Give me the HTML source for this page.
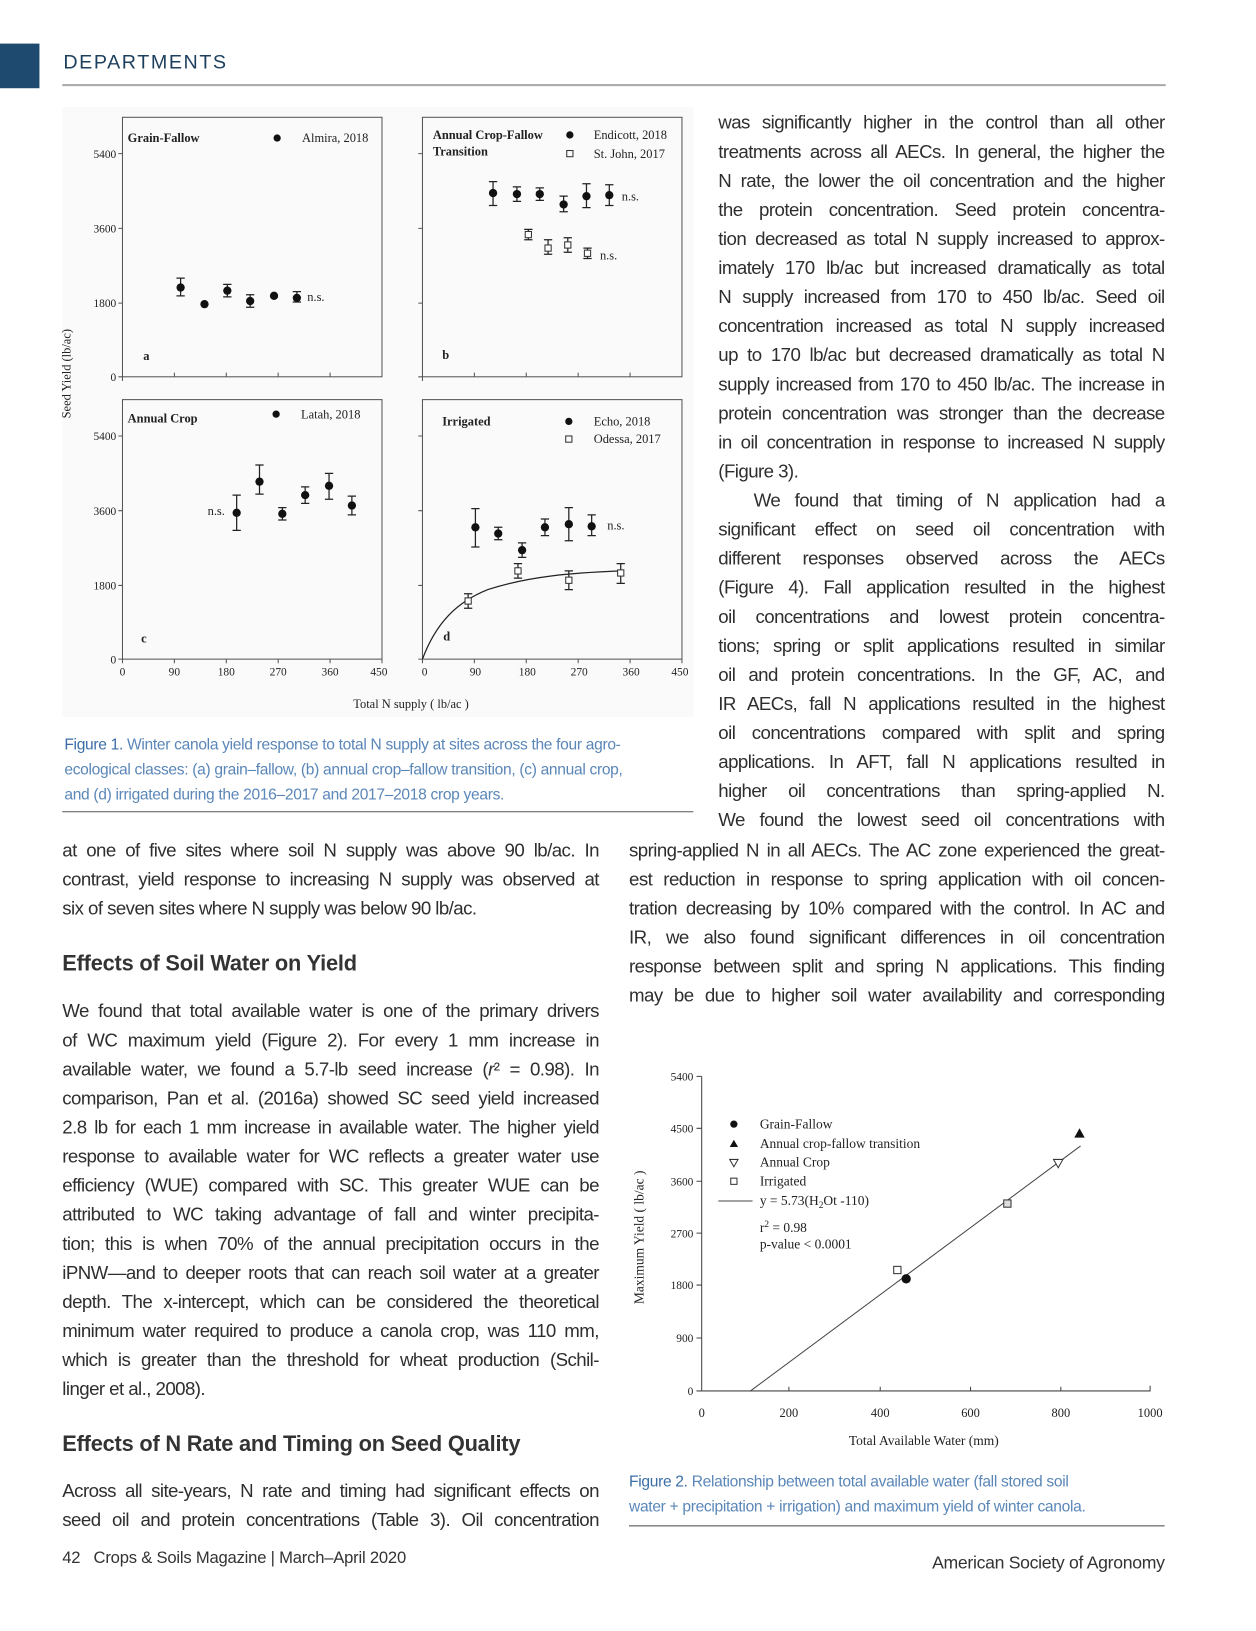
<!DOCTYPE html>
<html><head><meta charset="utf-8"><style>
body{margin:0;background:#fff;width:1256px;height:1631px;overflow:hidden}
#pg{position:relative;width:1210px;height:1571px;overflow:hidden;font-family:"Liberation Sans",sans-serif;color:#2e2e2e;transform:scale(1.038);transform-origin:0 0}
.l{position:absolute;height:28px;line-height:28px;font-size:18px;letter-spacing:-0.55px;white-space:nowrap;text-align:justify;text-align-last:justify}
.n{text-align-last:left}
.R{left:692px;width:430px}.W{left:606px;width:516px}.L{left:60px;width:517px}
.h{position:absolute;left:60px;font-size:21px;font-weight:bold;color:#333;letter-spacing:-0.2px}
.cap{position:absolute;font-size:15px;color:#5a86b8;line-height:24px;letter-spacing:-0.3px;white-space:nowrap}
.cap b{color:#3a6ea5;font-weight:normal}
svg text{font-family:"Liberation Serif",serif;fill:#222}
</style></head><body><div id="pg">
<div style="position:absolute;left:0;top:42px;width:38px;height:43px;background:#1d4a6e"></div>
<div style="position:absolute;left:61px;top:50px;font-size:19px;letter-spacing:1.5px;color:#1d3f5e">DEPARTMENTS</div>
<div style="position:absolute;left:60px;top:81px;width:1063px;height:2px;background:#aaa"></div>

<svg width="1256" height="1631" style="position:absolute;left:0;top:0" font-size="12">
<rect x="60" y="103" width="608" height="588" fill="#fafafa"/>
<g fill="none" stroke="#555" stroke-width="1">
<rect x="118" y="113" width="250" height="250"/><rect x="407" y="113" width="250" height="250"/>
<rect x="118" y="385" width="250" height="250"/><rect x="407" y="385" width="250" height="250"/>
<path d="M114 148h4M114 220h4M114 292h4M114 363h4M403 148h4M403 220h4M403 292h4M403 363h4M114 420h4M114 492h4M114 564h4M114 635h4M403 420h4M403 492h4M403 564h4M403 635h4"/>
<path d="M118 363v4M168 363v-4M218 363v-4M268 363v-4M318 363v-4M407 363v4M457 363v-4M507 363v-4M557 363v-4M607 363v-4M118 635v4M168 635v4M218 635v4M268 635v4M318 635v4M368 635v4M407 635v4M457 635v4M507 635v4M557 635v4M607 635v4M657 635v4"/>
</g>
<g text-anchor="end" font-size="11"><text x="112" y="152">5400</text><text x="112" y="224">3600</text><text x="112" y="296">1800</text><text x="112" y="367">0</text>
<text x="112" y="424">5400</text><text x="112" y="496">3600</text><text x="112" y="568">1800</text><text x="112" y="639">0</text></g>
<g text-anchor="middle" font-size="11"><text x="118" y="651">0</text><text x="168" y="651">90</text><text x="218" y="651">180</text><text x="268" y="651">270</text><text x="318" y="651">360</text><text x="365" y="651">450</text>
<text x="409" y="651">0</text><text x="458" y="651">90</text><text x="508" y="651">180</text><text x="558" y="651">270</text><text x="608" y="651">360</text><text x="655" y="651">450</text></g>
<text x="68" y="360" transform="rotate(-90 68 360)" text-anchor="middle" font-size="12">Seed Yield (lb/ac)</text>
<text x="396" y="682" text-anchor="middle" font-size="12">Total N supply (  lb/ac  )</text>
<g font-weight="bold" font-size="12"><text x="123" y="137">Grain-Fallow</text><text x="417" y="134">Annual Crop-Fallow</text><text x="417" y="150">Transition</text><text x="123" y="407">Annual Crop</text><text x="426" y="410">Irrigated</text>
<text x="138" y="347">a</text><text x="426" y="346">b</text><text x="136" y="619">c</text><text x="427" y="617">d</text></g>
<g font-size="12"><text x="291" y="137">Almira, 2018</text><text x="572" y="134">Endicott, 2018</text><text x="572" y="152">St. John, 2017</text><text x="290" y="403">Latah, 2018</text><text x="572" y="410">Echo, 2018</text><text x="572" y="427">Odessa, 2017</text>
<text x="296" y="290">n.s.</text><text x="599" y="193">n.s.</text><text x="578" y="250">n.s.</text><text x="200" y="496">n.s.</text><text x="585" y="510">n.s.</text></g>
<g fill="#111"><circle cx="267" cy="133" r="3.5"/><circle cx="549" cy="130" r="3.5"/><circle cx="266" cy="399" r="3.5"/><circle cx="548" cy="406" r="3.5"/></g>
<g fill="none" stroke="#333"><rect x="546" y="145" width="6" height="6"/><rect x="545" y="420" width="6" height="6"/></g>
<g stroke="#222" stroke-width="1.2" fill="none">
<path d="M174 268v17M170 268h8M170 285h8M219 274v12M215 274h8M215 286h8M241 284v12M237 284h8M237 296h8M286 281v10M282 281h8M282 291h8
M475 175v23M471 175h8M471 198h8M498 180v14M494 180h8M494 194h8M520 181v12M516 181h8M516 193h8M543 189v15M539 189h8M539 204h8M565 177v23M561 177h8M561 200h8M587 178v20M583 178h8M583 198h8
M509 221v10M505 221h8M505 231h8M528 231v14M524 231h8M524 245h8M547 229v14M543 229h8M543 243h8M566 239v10M562 239h8M562 249h8
M228 477v34M224 477h8M224 511h8M250 448v28M246 448h8M246 476h8M272 489v12M268 489h8M268 501h8M294 469v16M290 469h8M290 485h8M317 456v25M313 456h8M313 481h8M339 478v18M335 478h8M335 496h8
M458 490v37M454 490h8M454 527h8M480 508v12M476 508h8M476 520h8M503 523v14M499 523h8M499 537h8M525 500v16M521 500h8M521 516h8M548 489v32M544 489h8M544 521h8M570 496v20M566 496h8M566 516h8
M451 572v14M447 572h8M447 586h8M499 543v14M495 543h8M495 557h8M548 550v18M544 550h8M544 568h8M598 543v19M594 543h8M594 562h8
M407 635 C420 600 440 580 470 568 C510 555 550 552 598 550"/></g>
<g fill="#111"><circle cx="174" cy="277" r="4"/><circle cx="197" cy="293" r="4"/><circle cx="219" cy="280" r="4"/><circle cx="241" cy="290" r="4"/><circle cx="264" cy="285" r="4"/><circle cx="286" cy="287" r="4"/>
<circle cx="475" cy="186" r="4"/><circle cx="498" cy="187" r="4"/><circle cx="520" cy="187" r="4"/><circle cx="543" cy="197" r="4"/><circle cx="565" cy="189" r="4"/><circle cx="587" cy="188" r="4"/>
<circle cx="228" cy="494" r="4"/><circle cx="250" cy="464" r="4"/><circle cx="272" cy="495" r="4"/><circle cx="294" cy="477" r="4"/><circle cx="317" cy="468" r="4"/><circle cx="339" cy="487" r="4"/>
<circle cx="458" cy="508" r="4"/><circle cx="480" cy="514" r="4"/><circle cx="503" cy="530" r="4"/><circle cx="525" cy="508" r="4"/><circle cx="548" cy="505" r="4"/><circle cx="570" cy="507" r="4"/></g>
<g fill="#fff" stroke="#333"><rect x="506" y="223" width="6" height="6"/><rect x="525" y="236" width="6" height="6"/><rect x="544" y="233" width="6" height="6"/><rect x="563" y="241" width="6" height="6"/>
<rect x="448" y="576" width="6" height="6"/><rect x="496" y="547" width="6" height="6"/><rect x="545" y="556" width="6" height="6"/><rect x="595" y="549" width="6" height="6"/></g>
<line x1="60" y1="782" x2="668" y2="782" stroke="#555" stroke-width="1"/>

<g stroke="#444" fill="none"><path d="M676 1037V1340H1108V1335"/>
<path d="M671 1037h5M671 1087h5M671 1138h5M671 1188h5M671 1238h5M671 1289h5M671 1340h5M760 1340v-4M848 1340v-4M935 1340v-4M1022 1340v-4"/>
<path d="M723 1340L1041 1104"/><path d="M692 1157h33"/></g>
<g text-anchor="end" font-size="11"><text x="668" y="1041">5400</text><text x="668" y="1091">4500</text><text x="668" y="1142">3600</text><text x="668" y="1192">2700</text><text x="668" y="1242">1800</text><text x="668" y="1293">900</text><text x="668" y="1344">0</text></g>
<g text-anchor="middle" font-size="12"><text x="676" y="1365">0</text><text x="760" y="1365">200</text><text x="848" y="1365">400</text><text x="935" y="1365">600</text><text x="1022" y="1365">800</text><text x="1108" y="1365">1000</text></g>
<text x="890" y="1392" text-anchor="middle" font-size="13">Total Available Water (mm)</text>
<text x="620" y="1192" transform="rotate(-90 620 1192)" text-anchor="middle" font-size="13">Maximum Yield ( lb/ac )</text>
<g font-size="13"><text x="732" y="1087">Grain-Fallow</text><text x="732" y="1106">Annual crop-fallow transition</text><text x="732" y="1124">Annual Crop</text><text x="732" y="1142">Irrigated</text><text x="732" y="1161">y = 5.73(H<tspan font-size="9" dy="3">2</tspan><tspan dy="-3">Ot -110)</tspan></text><text x="732" y="1187">r<tspan font-size="9" dy="-5">2</tspan><tspan dy="5"> = 0.98</tspan></text><text x="732" y="1203">p-value &lt; 0.0001</text></g>
<circle cx="707" cy="1083" r="3.5" fill="#111"/><path d="M703 1105l4-7 4 7z" fill="#111"/><path d="M703 1117l4 7 4-7z" fill="none" stroke="#333"/><rect x="704" y="1135" width="6" height="6" fill="none" stroke="#333"/>
<circle cx="873" cy="1232" r="4.5" fill="#111"/><rect x="861" y="1220" width="7" height="7" fill="#fff" stroke="#333"/><rect x="967" y="1156" width="7" height="7" fill="#ddd" stroke="#333"/>
<path d="M1015 1117l4.5 8 4.5-8z" fill="#fff" stroke="#333"/><path d="M1035 1096l5-9 5 9z" fill="#111"/>
<line x1="606" y1="1470" x2="1122" y2="1470" stroke="#444"/>
</svg>

<div class="cap" style="left:62px;top:706px"><b>Figure 1.</b> Winter canola yield response to total N supply at sites across the four agro-<br>ecological classes: (a) grain–fallow, (b) annual crop–fallow transition, (c) annual crop,<br>and (d) irrigated during the 2016–2017 and 2017–2018 crop years.</div>
<div class="cap" style="left:606px;top:1416px"><b>Figure 2.</b> Relationship between total available water (fall stored soil<br>water + precipitation + irrigation) and maximum yield of winter canola.</div>

<div class="l R" style="top:104px">was significantly higher in the control than all other</div>
<div class="l R" style="top:132px">treatments across all AECs. In general, the higher the</div>
<div class="l R" style="top:160px">N rate, the lower the oil concentration and the higher</div>
<div class="l R" style="top:188px">the protein concentration. Seed protein concentra-</div>
<div class="l R" style="top:216px">tion decreased as total N supply increased to approx-</div>
<div class="l R" style="top:244px">imately 170 lb/ac but increased dramatically as total</div>
<div class="l R" style="top:272px">N supply increased from 170 to 450 lb/ac. Seed oil</div>
<div class="l R" style="top:300px">concentration increased as total N supply increased</div>
<div class="l R" style="top:328px">up to 170 lb/ac but decreased dramatically as total N</div>
<div class="l R" style="top:356px">supply increased from 170 to 450 lb/ac. The increase in</div>
<div class="l R" style="top:384px">protein concentration was stronger than the decrease</div>
<div class="l R" style="top:412px">in oil concentration in response to increased N supply</div>
<div class="l R n" style="top:440px">(Figure 3).</div>
<div class="l R" style="top:468px;left:726px;width:396px">We found that timing of N application had a</div>
<div class="l R" style="top:496px">significant effect on seed oil concentration with</div>
<div class="l R" style="top:524px">different responses observed across the AECs</div>
<div class="l R" style="top:552px">(Figure 4). Fall application resulted in the highest</div>
<div class="l R" style="top:580px">oil concentrations and lowest protein concentra-</div>
<div class="l R" style="top:608px">tions; spring or split applications resulted in similar</div>
<div class="l R" style="top:636px">oil and protein concentrations. In the GF, AC, and</div>
<div class="l R" style="top:664px">IR AECs, fall N applications resulted in the highest</div>
<div class="l R" style="top:692px">oil concentrations compared with split and spring</div>
<div class="l R" style="top:720px">applications. In AFT, fall N applications resulted in</div>
<div class="l R" style="top:748px">higher oil concentrations than spring-applied N.</div>
<div class="l R" style="top:776px">We found the lowest seed oil concentrations with</div>
<div class="l W" style="top:805px">spring-applied N in all AECs. The AC zone experienced the great-</div>
<div class="l W" style="top:833px">est reduction in response to spring application with oil concen-</div>
<div class="l W" style="top:861px">tration decreasing by 10% compared with the control. In AC and</div>
<div class="l W" style="top:889px">IR, we also found significant differences in oil concentration</div>
<div class="l W" style="top:917px">response between split and spring N applications. This finding</div>
<div class="l W" style="top:945px">may be due to higher soil water availability and corresponding</div>

<div class="l L" style="top:805px">at one of five sites where soil N supply was above 90 lb/ac. In</div>
<div class="l L" style="top:833px">contrast, yield response to increasing N supply was observed at</div>
<div class="l L n" style="top:861px">six of seven sites where N supply was below 90 lb/ac.</div>
<div class="h" style="top:917px">Effects of Soil Water on Yield</div>
<div class="l L" style="top:960px">We found that total available water is one of the primary drivers</div>
<div class="l L" style="top:988px">of WC maximum yield (Figure 2). For every 1 mm increase in</div>
<div class="l L" style="top:1016px">available water, we found a 5.7-lb seed increase (<i>r</i>² = 0.98). In</div>
<div class="l L" style="top:1044px">comparison, Pan et al. (2016a) showed SC seed yield increased</div>
<div class="l L" style="top:1072px">2.8 lb for each 1 mm increase in available water. The higher yield</div>
<div class="l L" style="top:1100px">response to available water for WC reflects a greater water use</div>
<div class="l L" style="top:1128px">efficiency (WUE) compared with SC. This greater WUE can be</div>
<div class="l L" style="top:1156px">attributed to WC taking advantage of fall and winter precipita-</div>
<div class="l L" style="top:1184px">tion; this is when 70% of the annual precipitation occurs in the</div>
<div class="l L" style="top:1212px">iPNW—and to deeper roots that can reach soil water at a greater</div>
<div class="l L" style="top:1240px">depth. The x-intercept, which can be considered the theoretical</div>
<div class="l L" style="top:1268px">minimum water required to produce a canola crop, was 110 mm,</div>
<div class="l L" style="top:1296px">which is greater than the threshold for wheat production (Schil-</div>
<div class="l L n" style="top:1324px">linger et al., 2008).</div>
<div class="h" style="top:1380px">Effects of N Rate and Timing on Seed Quality</div>
<div class="l L" style="top:1422px">Across all site-years, N rate and timing had significant effects on</div>
<div class="l L" style="top:1450px">seed oil and protein concentrations (Table 3). Oil concentration</div>

<div style="position:absolute;left:60px;top:1493px;font-size:16px;color:#333;letter-spacing:-0.2px">42&nbsp;&nbsp;&nbsp;Crops &amp; Soils Magazine | March–April 2020</div>
<div style="position:absolute;right:88px;top:1496px;font-size:17px;color:#333;letter-spacing:-0.3px">American Society of Agronomy</div>
</div></body></html>
